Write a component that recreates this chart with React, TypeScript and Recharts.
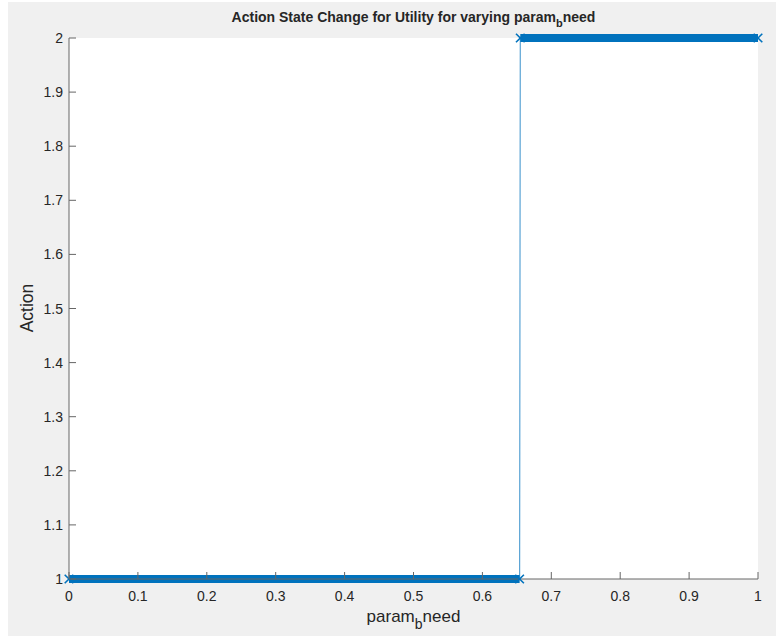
import React from "react";
import { CartesianGrid, Line, LineChart, XAxis, YAxis } from "recharts";

// sweep of param_b need and the action chosen at each sample
const paramValues = [0, 0.654, 0.655, 1];
const actionValues = [1, 1, 2, 2];

const xTicks = [0, 0.1, 0.2, 0.3, 0.4, 0.5, 0.6, 0.7, 0.8, 0.9, 1];
const xTickLabels = ["0", "0.1", "0.2", "0.3", "0.4", "0.5", "0.6", "0.7", "0.8", "0.9", "1"];
const yTicks = [1, 1.1, 1.2, 1.3, 1.4, 1.5, 1.6, 1.7, 1.8, 1.9, 2];
const yTickLabels = ["1", "1.1", "1.2", "1.3", "1.4", "1.5", "1.6", "1.7", "1.8", "1.9", "2"];

const W = 768;
const H = 634;
const BG = "#f0f0f0";
const BLUE = "#0072BD";
const INK = "#262626";
const AXIS = "#666666";
const FONT = "'Liberation Sans', Arial, Helvetica, sans-serif";
const TICK_LEN = 7;

const data = paramValues.map((p, i) => ({
  p,
  action: actionValues[i],
  low: actionValues[i] === 1 ? actionValues[i] : null,
  high: actionValues[i] === 2 ? actionValues[i] : null,
}));

// 'x' marker drawn at each sample of a band
function XMark(props: any) {
  const { cx, cy, value, index } = props;
  if (value == null || cx == null || cy == null) return <g key={`n${index}`} />;
  const r = 4.3;
  return (
    <path
      key={`m${index}`}
      d={`M${cx - r},${cy - r}L${cx + r},${cy + r}M${cx - r},${cy + r}L${cx + r},${cy - r}`}
      stroke={BLUE}
      strokeWidth={1.6}
      fill="none"
    />
  );
}

function BottomTick(props: any) {
  const { x, y, index } = props;
  return (
    <g>
      <line x1={x} y1={y} x2={x} y2={y - TICK_LEN} stroke={AXIS} />
      <text x={x} y={y + 22} textAnchor="middle" fill={INK} fontSize={14} fontFamily={FONT}>
        {xTickLabels[index]}
      </text>
    </g>
  );
}

function LeftTick(props: any) {
  const { x, y, index } = props;
  return (
    <g>
      <line x1={x} y1={y} x2={x + TICK_LEN} y2={y} stroke={AXIS} />
      <text x={x - 6} y={y + 5} textAnchor="end" fill={INK} fontSize={14} fontFamily={FONT}>
        {yTickLabels[index]}
      </text>
    </g>
  );
}

function TopTick(props: any) {
  const { x, y } = props;
  return <line x1={x} y1={y} x2={x} y2={y + TICK_LEN} stroke={AXIS} />;
}

function RightTick(props: any) {
  const { x, y } = props;
  return <line x1={x} y1={y} x2={x - TICK_LEN} y2={y} stroke={AXIS} />;
}

export default function App() {
  const plotLeft = 61;
  const plotRight = 750;
  const centerX = (plotLeft + plotRight) / 2;

  return (
    <>
      <style>{`html, body { background: ${BG}; overflow: hidden; }`}</style>
      {/* thin white strip along the left and top edges of the page */}
      <div style={{ position: "fixed", left: 0, top: 0, width: 8, height: "100%", background: "#ffffff" }} />
      <div style={{ position: "fixed", left: 0, top: 0, width: "100%", height: 2, background: "#ffffff" }} />
      <div
        style={{
          position: "absolute",
          left: 8,
          top: 2,
          width: W,
          height: H,
          background: BG,
        }}
      >
        <LineChart width={W} height={H} data={data} margin={{ top: 36, right: 18, bottom: 27, left: 11 }}>
          <CartesianGrid horizontal={false} vertical={false} fill="#ffffff" />
          <XAxis
            dataKey="p"
            type="number"
            domain={[0, 1]}
            ticks={xTicks}
            height={30}
            tickSize={0}
            tickMargin={0}
            tickLine={false}
            axisLine={{ stroke: AXIS }}
            tick={BottomTick}
            interval={0}
          />
          <XAxis
            xAxisId="top"
            orientation="top"
            dataKey="p"
            type="number"
            domain={[0, 1]}
            ticks={xTicks}
            height={0}
            tickSize={0}
            tickMargin={0}
            tickLine={false}
            axisLine={{ stroke: AXIS }}
            tick={TopTick}
            interval={0}
          />
          <YAxis
            type="number"
            domain={[1, 2]}
            ticks={yTicks}
            width={50}
            tickSize={0}
            tickMargin={0}
            tickLine={false}
            axisLine={{ stroke: AXIS }}
            tick={LeftTick}
            interval={0}
          />
          <YAxis
            yAxisId="right"
            orientation="right"
            type="number"
            domain={[1, 2]}
            ticks={yTicks}
            width={0}
            tickSize={0}
            tickMargin={0}
            tickLine={false}
            axisLine={{ stroke: AXIS }}
            tick={RightTick}
            interval={0}
          />
          <Line
            dataKey="action"
            stroke={BLUE}
            strokeOpacity={0.65}
            strokeWidth={1.2}
            dot={false}
            isAnimationActive={false}
          />
          <Line
            dataKey="low"
            stroke={BLUE}
            strokeWidth={8}
            strokeLinecap="butt"
            dot={XMark}
            isAnimationActive={false}
          />
          <Line
            dataKey="high"
            stroke={BLUE}
            strokeWidth={8}
            strokeLinecap="butt"
            dot={XMark}
            isAnimationActive={false}
          />
        </LineChart>
        <svg
          width={W}
          height={H}
          style={{ position: "absolute", left: 0, top: 0, pointerEvents: "none" }}
          fontFamily={FONT}
          fill={INK}
        >
          <text x={centerX} y={20} textAnchor="middle" fontSize={14} fontWeight="bold">
            Action State Change for Utility for varying param
            <tspan fontSize={11} dy={5}>b</tspan>
            <tspan dy={-5}>need</tspan>
          </text>
          <text x={centerX} y={620} textAnchor="middle" fontSize={17}>
            param
            <tspan fontSize={14} dy={7}>b</tspan>
            <tspan dy={-7}>need</tspan>
          </text>
          <text x={25} y={306} textAnchor="middle" fontSize={17.5} transform="rotate(-90 25 306)">
            Action
          </text>
        </svg>
      </div>
    </>
  );
}
